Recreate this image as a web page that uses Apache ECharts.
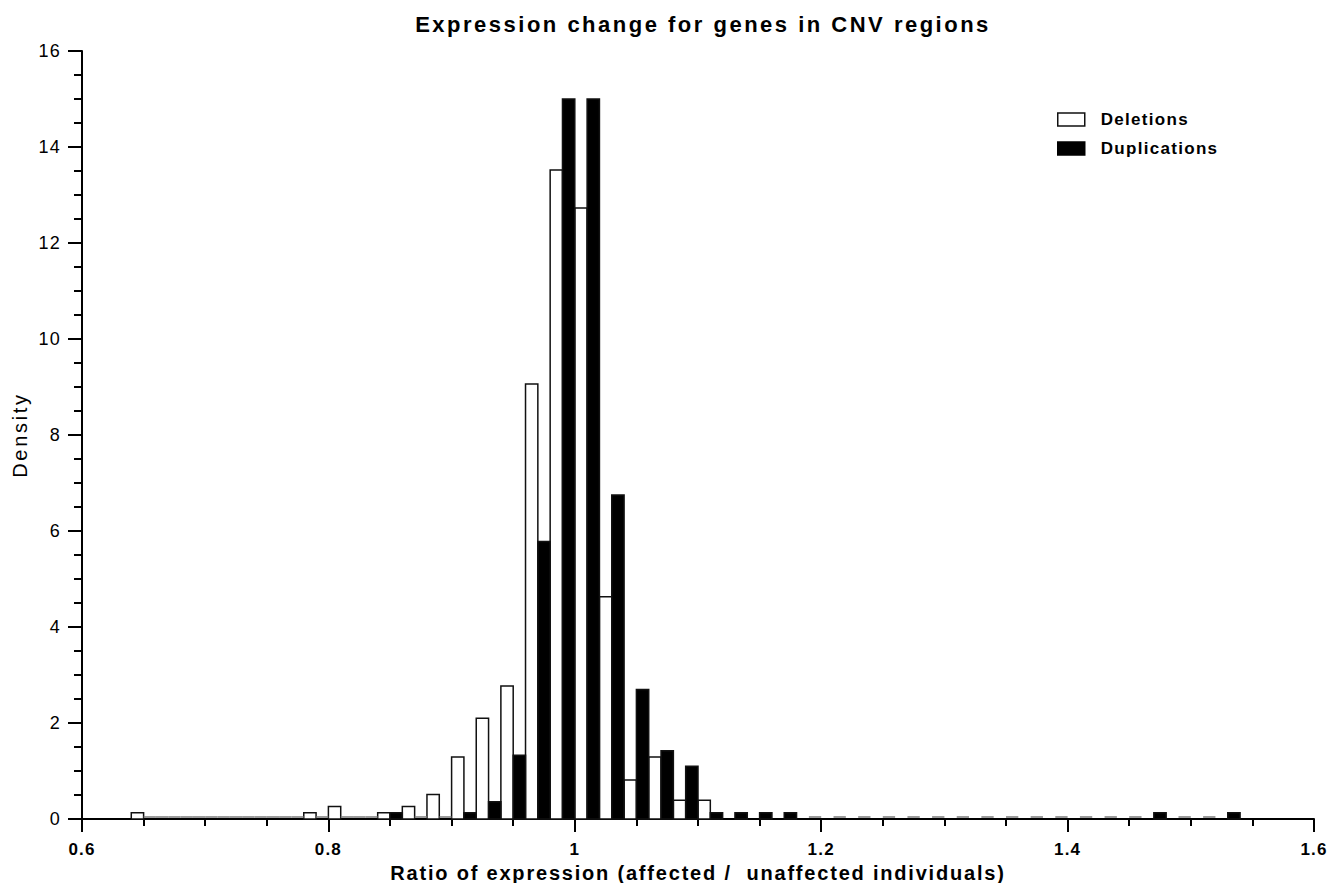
<!DOCTYPE html>
<html>
<head>
<meta charset="utf-8">
<title>Expression change for genes in CNV regions</title>
<script src="https://cdn.jsdelivr.net/npm/echarts@6/dist/echarts.min.js"></script>
<style>
  html, body { margin: 0; padding: 0; background: #fff; }
  #hist { width: 1339px; height: 883px; }
</style>
</head>
<body>
<div id="hist"></div>
<script>
// left edge of each 0.02 bin: deletions take the left half, duplications the right half
const binStart = [
  0.64, 0.66, 0.68, 0.70, 0.72, 0.74, 0.76, 0.78, 0.80, 0.82,
  0.84, 0.86, 0.88, 0.90, 0.92, 0.94, 0.96, 0.98, 1.00, 1.02,
  1.04, 1.06, 1.08, 1.10, 1.12, 1.14, 1.16, 1.18, 1.20, 1.22,
  1.24, 1.26, 1.28, 1.30, 1.32, 1.34, 1.36, 1.38, 1.40, 1.42,
  1.44, 1.46, 1.48, 1.50, 1.52
]
const deletions = [
  0.13, 0, 0, 0, 0, 0, 0, 0.13, 0.26, 0,
  0.13, 0.26, 0.51, 1.29, 2.1, 2.77, 9.06, 13.52, 12.73, 4.63,
  0.81, 1.29, 0.39, 0.39
]
const duplications = [
  0, 0, 0, 0, 0, 0, 0, 0, 0, 0,
  0.13, 0, 0, 0.13, 0.36, 1.33, 5.78, 15.0, 15.0, 6.75,
  2.70, 1.42, 1.10, 0.13, 0.13, 0.13, 0.13, 0, 0, 0,
  0, 0, 0, 0, 0, 0, 0, 0, 0, 0,
  0, 0.13, 0, 0, 0.13
]
const xTicks = [0.6, 0.8, 1, 1.2, 1.4, 1.6]
const halfBin = 0.01

const titleText = 'Expression change for genes in CNV regions'
const xName = 'Ratio of expression (affected /  unaffected individuals)'
const yName = 'Density'

const font = "'Liberation Sans', Arial, sans-serif"

function pairs(values) {
  return values.map((v, i) => [binStart[i], v])
}

function barRenderer(offset, fill) {
  return function (params, api) {
    const x0 = api.value(0) + offset
    const v = api.value(1)
    const p0 = api.coord([x0, 0])
    const p1 = api.coord([x0 + halfBin, v])
    if (v === 0) {
      // empty bins show as a faint outline along the baseline
      return {
        type: 'line',
        shape: { x1: p0[0], y1: p0[1] - 2, x2: p1[0], y2: p0[1] - 2 },
        style: { stroke: '#7a7a7a', lineWidth: 1.5 },
      }
    }
    return {
      type: 'rect',
      shape: { x: p0[0], y: p1[1], width: p1[0] - p0[0], height: p0[1] - p1[1] },
      style: { fill: fill, stroke: '#111', lineWidth: 1.5 },
    }
  }
}

// the original plot uses tracked (letter-spaced) text, which zrender can't do itself
function trackText() {
  document.querySelectorAll('#hist svg text').forEach((t) => {
    const s = t.textContent
    let sp = 1.2
    if (s === titleText) sp = 2.5
    else if (s === xName) sp = 1.8
    else if (s === yName) sp = 2.7
    else if (s === 'Deletions' || s === 'Duplications') sp = 1.3
    t.setAttribute('letter-spacing', sp)
  })
}

const myChart = echarts.init(document.getElementById('hist'), null, { renderer: 'svg' })
const option = {
  animation: false,
  backgroundColor: '#fff',
  title: {
    text: titleText,
    left: 698,
    textAlign: 'center',
    top: 8,
    textStyle: { fontFamily: font, fontSize: 22, fontWeight: 'bold', color: '#000' },
  },
  legend: {
    orient: 'vertical',
    left: 1057,
    top: 111,
    padding: 0,
    itemWidth: 27,
    itemHeight: 13,
    itemGap: 12,
    textStyle: { fontFamily: font, fontSize: 17, fontWeight: 'bold', color: '#000', padding: [0, 0, 0, 11] },
    data: [
      { name: 'Deletions', icon: 'rect', itemStyle: { color: '#fff', borderColor: '#111', borderWidth: 1.5 } },
      { name: 'Duplications', icon: 'rect', itemStyle: { color: '#000', borderColor: '#000', borderWidth: 1.5 } },
    ],
  },
  grid: {
    left: 82,
    right: 25,
    top: 51,
    bottom: 64,
    outerBoundsMode: 'none',
  },
  xAxis: {
    type: 'value',
    min: 0.6,
    max: 1.6,
    interval: 0.2,
    name: xName,
    nameLocation: 'middle',
    nameGap: 44,
    nameTextStyle: { fontFamily: font, fontSize: 20, fontWeight: 'bold', color: '#000' },
    axisLine: { lineStyle: { color: '#000', width: 2 } },
    axisTick: { length: 13, lineStyle: { color: '#000', width: 2 } },
    minorTick: { show: true, splitNumber: 4, length: 7, lineStyle: { color: '#000', width: 2 } },
    splitLine: { show: false },
    axisLabel: {
      margin: 22,
      fontFamily: font,
      fontSize: 17,
      fontWeight: 'bold',
      color: '#000',
      customValues: xTicks,
    },
  },
  yAxis: {
    type: 'value',
    min: 0,
    max: 16,
    interval: 2,
    name: yName,
    nameLocation: 'middle',
    nameGap: 49,
    nameTextStyle: { fontFamily: font, fontSize: 20, color: '#000' },
    axisLine: { show: true, lineStyle: { color: '#000', width: 2 } },
    axisTick: { show: true, length: 14, lineStyle: { color: '#000', width: 2 } },
    minorTick: { show: true, splitNumber: 4, length: 8, lineStyle: { color: '#000', width: 2 } },
    splitLine: { show: false },
    axisLabel: { margin: 21, fontFamily: font, fontSize: 18, color: '#000' },
  },
  series: [
    {
      name: 'Deletions',
      type: 'custom',
      renderItem: barRenderer(0, '#fff'),
      itemStyle: { color: '#fff', borderColor: '#111' },
      encode: { x: 0, y: 1 },
      z: 3,
      data: pairs(deletions),
    },
    {
      name: 'Duplications',
      type: 'custom',
      renderItem: barRenderer(halfBin, '#000'),
      itemStyle: { color: '#000' },
      encode: { x: 0, y: 1 },
      z: 4,
      data: pairs(duplications),
    },
  ],
}
myChart.on('finished', trackText)
myChart.setOption(option)
setTimeout(trackText, 50)
</script>
</body>
</html>
